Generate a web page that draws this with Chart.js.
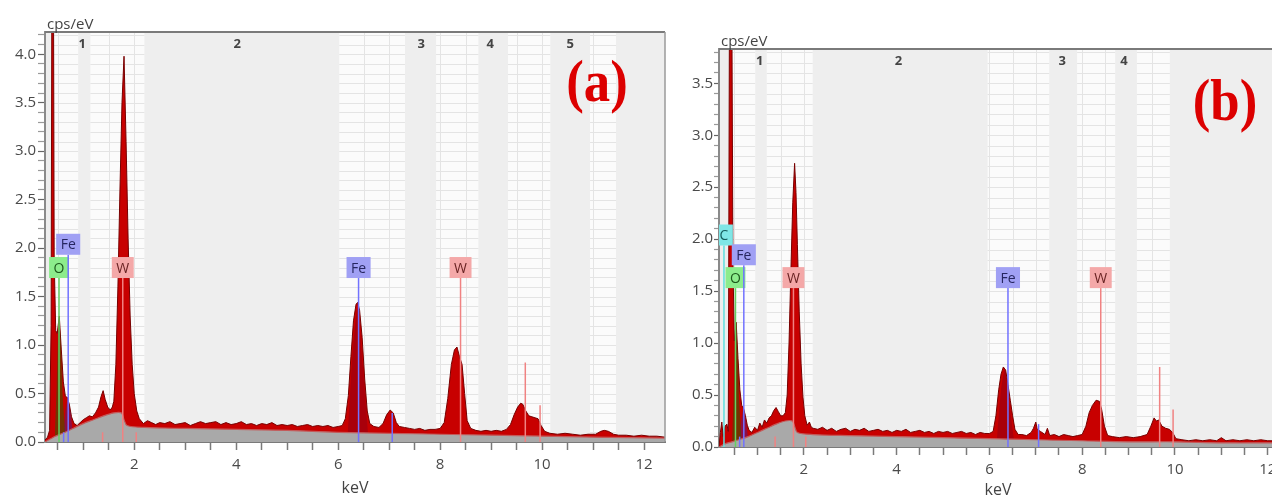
<!DOCTYPE html>
<html lang="en">
<head>
<meta charset="UTF-8">
<title>EDS spectra (a) (b)</title>
<script src="https://cdn.jsdelivr.net/npm/chart.js"></script>
<style>
	html, body { margin: 0; padding: 0; background: #fff; overflow: hidden; width: 1272px; height: 495px; }
	canvas { position: absolute; top: 0; }
</style>
</head>
<body>
<canvas id="chartA" width="680" height="495" style="left:0"></canvas>
<canvas id="chartB" width="620" height="495" style="left:680px"></canvas>
<script>
// ---- spectrum (a) ----
var energyA = [0.25,0.30,0.34,0.37,0.39,0.41,0.43,0.46,0.49,0.53,0.57,0.61,0.65,0.69,0.73,0.77,0.82,0.88,0.94,1.00,
	1.06,1.12,1.18,1.24,1.30,1.35,1.39,1.43,1.48,1.53,1.57,1.60,1.64,1.68,1.72,1.76,1.80,1.84,1.88,1.92,
	1.96,2.00,2.05,2.10,2.18,2.26,2.34,2.42,2.50,2.60,2.70,2.80,2.90,3.00,3.10,3.20,3.30,3.40,3.50,
	3.60,3.70,3.80,3.90,4.00,4.10,4.20,4.30,4.40,4.50,4.60,4.70,4.80,4.90,5.00,5.10,5.20,5.30,5.40,5.50,
	5.60,5.70,5.80,5.90,6.00,6.08,6.14,6.20,6.25,6.30,6.35,6.38,6.42,6.47,6.52,6.57,6.62,6.70,6.80,6.88,
	6.95,7.02,7.08,7.14,7.20,7.30,7.40,7.50,7.60,7.70,7.80,7.90,8.00,8.08,8.15,8.22,8.28,8.33,8.38,8.43,
	8.48,8.53,8.60,8.70,8.80,8.90,9.00,9.10,9.20,9.30,9.38,9.45,9.52,9.58,9.62,9.68,9.74,9.80,9.86,9.92,
	9.98,10.05,10.15,10.30,10.45,10.60,10.75,10.90,11.05,11.15,11.22,11.30,11.40,11.50,11.65,11.80,11.95,12.10,12.25,12.41];
var cpsA = [0.02,0.05,0.12,1.2,6.0,6.0,1.9,1.15,1.12,1.3,0.95,0.62,0.47,0.46,0.38,0.26,0.19,0.17,0.20,0.23,
	0.25,0.27,0.26,0.30,0.36,0.47,0.53,0.44,0.36,0.33,0.36,0.42,0.8,1.6,2.6,3.5,3.98,3.1,2.1,1.3,
	0.8,0.5,0.32,0.24,0.19,0.22,0.20,0.18,0.20,0.19,0.21,0.18,0.19,0.20,0.17,0.19,0.21,0.19,0.20,
	0.21,0.18,0.20,0.18,0.19,0.21,0.18,0.19,0.17,0.19,0.18,0.20,0.17,0.18,0.17,0.18,0.16,0.17,0.18,0.16,
	0.17,0.16,0.17,0.15,0.16,0.17,0.24,0.48,0.88,1.25,1.42,1.44,1.36,1.08,0.65,0.32,0.19,0.16,0.15,0.19,
	0.28,0.33,0.30,0.20,0.16,0.15,0.14,0.13,0.14,0.12,0.13,0.13,0.14,0.20,0.45,0.80,0.95,0.98,0.88,0.80,
	0.50,0.22,0.14,0.12,0.11,0.12,0.11,0.12,0.11,0.13,0.18,0.28,0.36,0.40,0.39,0.32,0.27,0.26,0.25,0.24,
	0.17,0.11,0.09,0.08,0.09,0.08,0.07,0.08,0.08,0.11,0.12,0.11,0.08,0.07,0.07,0.06,0.07,0.06,0.06,0.05];
var bgEnergyA = [0.25,0.35,0.45,0.6,0.8,1.0,1.2,1.4,1.6,1.75,1.8,1.86,2.2,3,4,5,6,7,8,9,10,11,12.41];
var bgCpsA = [0,0.03,0.06,0.09,0.14,0.19,0.23,0.27,0.30,0.30,0.23,0.17,0.15,0.14,0.13,0.12,0.10,0.09,0.08,0.07,0.06,0.05,0.04];
var oFitEA = [0.44,0.48,0.51,0.53,0.56,0.60,0.66];
var oFitVA = [0,0.6,1.2,1.3,1.0,0.45,0];
var feLFitEA = [0.60,0.65,0.70,0.75,0.82];
var feLFitVA = [0,0.3,0.45,0.3,0];
var feKFitEA = [6.18,6.28,6.38,6.48,6.60];
var feKFitVA = [0,0.9,1.38,0.8,0];
var bandStartA = [0.39,1.14,6.02,7.92,9.33,10.94];
var bandEndA = [0.90,2.20,7.31,8.75,10.16,11.45];
var regionTextA = ['1','2','3','4','5'];
var regionAtA = [0.98,4.02,7.63,8.98,10.55];
var lineNameA = ['O','Fe','W','Fe','W'];
var lineAtA = [0.525,0.705,1.775,6.40,8.40];
var lineLevelA = [1.80,2.04,1.80,1.80,1.80];
var minorNameA = ['Fe','Fe','W','W','W','W'];
var minorAtA = [0.615,7.06,9.67,9.96,1.38,2.04];
var minorTopA = [0.10,0.30,0.82,0.38,0.10,0.10];

// ---- spectrum (b) ----
var energyB = [0.17,0.20,0.23,0.26,0.30,0.34,0.37,0.40,0.44,0.47,0.50,0.54,0.58,0.62,0.66,0.70,0.74,0.78,0.82,0.88,
	0.94,1.00,1.05,1.10,1.15,1.20,1.25,1.30,1.35,1.40,1.45,1.50,1.55,1.60,1.64,1.68,1.72,1.76,1.80,1.83,
	1.86,1.90,1.94,1.98,2.02,2.07,2.12,2.16,2.20,2.30,2.40,2.50,2.60,2.70,2.80,2.90,3.00,3.10,3.20,3.30,3.40,
	3.50,3.60,3.70,3.80,3.90,4.00,4.10,4.20,4.30,4.40,4.50,4.60,4.70,4.80,4.90,5.00,5.10,5.20,5.30,5.40,
	5.50,5.60,5.70,5.80,5.90,6.00,6.08,6.14,6.20,6.25,6.30,6.35,6.40,6.45,6.50,6.55,6.62,6.70,6.80,6.90,
	6.95,7.00,7.03,7.10,7.20,7.25,7.30,7.40,7.50,7.60,7.70,7.80,7.90,8.00,8.08,8.15,8.22,8.30,8.37,8.42,
	8.48,8.55,8.65,8.80,8.95,9.10,9.25,9.40,9.48,9.55,9.60,9.65,9.72,9.80,9.88,9.95,10.02,10.15,10.30,10.45,
	10.60,10.75,10.90,11.00,11.10,11.25,11.40,11.55,11.70,11.85,12.00,12.20];
var cpsB = [0,0.14,0.24,0.10,0.20,0.22,0.15,5.0,5.0,1.8,1.02,1.2,0.85,0.55,0.40,0.37,0.30,0.21,0.16,0.14,
	0.19,0.16,0.23,0.19,0.26,0.23,0.28,0.30,0.35,0.38,0.34,0.30,0.30,0.33,0.5,1.0,1.7,2.35,2.73,2.45,
	1.95,1.3,0.8,0.48,0.30,0.21,0.24,0.19,0.18,0.17,0.19,0.16,0.18,0.15,0.17,0.18,0.15,0.17,0.16,0.18,0.15,
	0.16,0.17,0.15,0.16,0.14,0.16,0.15,0.17,0.14,0.15,0.16,0.14,0.15,0.13,0.15,0.14,0.15,0.13,0.14,0.15,
	0.13,0.14,0.12,0.14,0.13,0.13,0.15,0.30,0.55,0.70,0.77,0.74,0.60,0.45,0.30,0.17,0.12,0.12,0.11,0.14,
	0.18,0.24,0.17,0.15,0.12,0.18,0.11,0.12,0.10,0.12,0.11,0.10,0.11,0.12,0.20,0.33,0.40,0.45,0.44,0.36,
	0.20,0.11,0.10,0.09,0.10,0.09,0.10,0.12,0.20,0.28,0.25,0.26,0.20,0.18,0.17,0.14,0.08,0.07,0.06,0.07,
	0.06,0.07,0.06,0.09,0.06,0.07,0.06,0.07,0.06,0.07,0.06,0.06];
var bgEnergyB = [0.17,0.3,0.45,0.6,0.8,1.0,1.2,1.4,1.6,1.75,1.8,1.86,2.2,3,4,5,6,7,8,9,10,11,12.2];
var bgCpsB = [0,0.03,0.05,0.07,0.10,0.14,0.18,0.22,0.25,0.25,0.20,0.14,0.12,0.11,0.10,0.09,0.08,0.07,0.06,0.05,0.05,0.04,0.04];
var oFitEB = [0.45,0.49,0.52,0.54,0.57,0.61,0.67];
var oFitVB = [0,0.55,1.1,1.2,0.9,0.4,0];
var feLFitEB = [0.60,0.65,0.70,0.75,0.82];
var feLFitVB = [0,0.25,0.37,0.25,0];
var feKFitEB = [6.15,6.25,6.33,6.42,6.55];
var feKFitVB = [0,0.55,0.74,0.45,0];
var bandStartB = [0.43,1.20,5.96,7.89,9.18];
var bandEndB = [0.95,2.19,7.29,8.71,9.89];
var regionTextB = ['1','2','3','4'];
var regionAtB = [1.05,4.04,7.57,8.90];
var lineNameB = ['C','O','Fe','W','Fe','W'];
var lineAtB = [0.277,0.525,0.705,1.775,6.40,8.40];
var lineLevelB = [2.04,1.63,1.85,1.63,1.63,1.63];
var minorNameB = ['Fe','Fe','W','W','W','W'];
var minorAtB = [0.615,7.06,9.67,9.96,1.38,2.04];
var minorTopB = [0.10,0.22,0.77,0.36,0.10,0.10];

var FONT = "'Open Sans', 'DejaVu Sans', sans-serif";
var elementStyle = {
	C: { line: '#5fdede', box: '#7fe6e6', text: '#145c5c' },
	O: { line: '#62d062', box: '#8cec8c', text: '#1d5a1d' },
	Fe: { line: '#7272ff', box: '#a0a0f4', text: '#262660' },
	W: { line: '#f08282', box: '#f4a8a8', text: '#6a2424' }
};

function points(xs, ys) {
	return xs.map(function (x, i) { return { x: x, y: ys[i] }; });
}

function edsPlugin(p) {
	return {
		id: 'eds',
		beforeDraw: function (chart) {
			var ctx = chart.ctx, a = chart.chartArea, sx = chart.scales.x, sy = chart.scales.y;
			ctx.save();
			ctx.fillStyle = '#eeeeee';
			ctx.fillRect(a.left, a.top, a.right - a.left, a.bottom - a.top);
			for (var i = 0; i < p.bandStart.length; i++) {
				var x0 = Math.max(a.left, sx.getPixelForValue(p.bandStart[i]));
				var x1 = Math.min(a.right, sx.getPixelForValue(p.bandEnd[i]));
				ctx.fillStyle = '#fbfbfb';
				ctx.fillRect(x0, a.top, x1 - x0, a.bottom - a.top);
				ctx.strokeStyle = '#e4e4e4';
				ctx.lineWidth = 1;
				ctx.beginPath();
				sy.ticks.forEach(function (t) {
					var py = Math.round(sy.getPixelForValue(t.value)) + 0.5;
					ctx.moveTo(x0, py); ctx.lineTo(x1, py);
				});
				for (var k = 0; k < sx.ticks.length; k++) {
					var v = sx.ticks[k].value;
					if (v > p.bandStart[i] && v < p.bandEnd[i]) {
						var px = Math.round(sx.getPixelForValue(v)) + 0.5;
						ctx.moveTo(px, a.top); ctx.lineTo(px, a.bottom);
					}
				}
				ctx.stroke();
			}
			ctx.restore();
		},
		afterDatasetsDraw: function (chart) {
			var ctx = chart.ctx, a = chart.chartArea, sx = chart.scales.x, sy = chart.scales.y;
			var base = sy.getPixelForValue(0);
			ctx.save();
			ctx.beginPath();
			ctx.rect(a.left, a.top, a.right - a.left, a.bottom - a.top + 1);
			ctx.clip();
			ctx.lineWidth = 1.5;
			for (var i = 0; i < p.minorAt.length; i++) {
				var mx = sx.getPixelForValue(p.minorAt[i]);
				ctx.strokeStyle = elementStyle[p.minorName[i]].line;
				ctx.beginPath();
				ctx.moveTo(mx, sy.getPixelForValue(p.minorTop[i]));
				ctx.lineTo(mx, base);
				ctx.stroke();
			}
			ctx.font = '14px ' + FONT;
			ctx.textAlign = 'center';
			ctx.textBaseline = 'middle';
			for (var j = 0; j < p.lineAt.length; j++) {
				var st = elementStyle[p.lineName[j]];
				var lx = sx.getPixelForValue(p.lineAt[j]);
				var ly = sy.getPixelForValue(p.lineLevel[j]);
				var w = ctx.measureText(p.lineName[j]).width + 9;
				var h = 21;
				ctx.strokeStyle = st.line;
				ctx.beginPath();
				ctx.moveTo(lx, ly + h / 2);
				ctx.lineTo(lx, base);
				ctx.stroke();
				ctx.fillStyle = st.box;
				ctx.fillRect(lx - w / 2, ly - h / 2, w, h);
				ctx.fillStyle = st.text;
				ctx.fillText(p.lineName[j], lx, ly + 1);
			}
			ctx.restore();
		},
		afterDraw: function (chart) {
			var ctx = chart.ctx, a = chart.chartArea, sx = chart.scales.x;
			ctx.save();
			ctx.strokeStyle = '#7a7a7a';
			ctx.lineWidth = 2;
			ctx.beginPath();
			ctx.moveTo(a.left, a.top); ctx.lineTo(a.right, a.top);
			ctx.stroke();
			if (p.rightBorder) {
				ctx.strokeStyle = '#9a9a9a';
				ctx.lineWidth = 1.5;
				ctx.beginPath();
				ctx.moveTo(a.right, a.top); ctx.lineTo(a.right, a.bottom);
				ctx.stroke();
			}
			ctx.fillStyle = '#444';
			ctx.font = 'bold 13px ' + FONT;
			ctx.textAlign = 'center';
			ctx.textBaseline = 'middle';
			for (var i = 0; i < p.regionText.length; i++) {
				ctx.fillText(p.regionText[i], sx.getPixelForValue(p.regionAt[i]), a.top + 12);
			}
			ctx.font = '15px ' + FONT;
			ctx.textAlign = 'left';
			ctx.textBaseline = 'bottom';
			ctx.fillText('cps/eV', a.left + 2, a.top);
			ctx.textAlign = 'center';
			ctx.textBaseline = 'middle';
			ctx.font = '16px ' + FONT;
			ctx.fillText('keV', (a.left + a.right) / 2, p.kevY);
			// panel letter
			ctx.translate(a.right - p.letterDx, a.top + p.letterDy);
			ctx.scale(0.88, 1);
			ctx.fillStyle = '#dc0000';
			ctx.font = "bold 60px 'Liberation Serif', 'DejaVu Serif', serif";
			ctx.fillText(p.letter, 0, 0);
			ctx.restore();
		}
	};
}

function fitSet(xs, ys, color) {
	return {
		data: points(xs, ys),
		borderWidth: 0,
		backgroundColor: color,
		fill: 'origin',
		pointRadius: 0,
		tension: 0.2,
		order: 2.5
	};
}

function makeChart(id, p) {
	var ctx = document.getElementById(id).getContext('2d');
	return new Chart(ctx, {
		type: 'line',
		data: {
			datasets: [{
				data: points(p.energy, p.cps),
				borderColor: '#780000',
				borderWidth: 1,
				backgroundColor: '#c80000',
				fill: 'origin',
				pointRadius: 0,
				tension: 0,
				order: 3
			}, {
				data: points(p.bgEnergy, p.bgCps),
				borderColor: '#c45a5a',
				borderWidth: 1.2,
				backgroundColor: '#a9a9a9',
				fill: 'origin',
				pointRadius: 0,
				tension: 0.3,
				order: 2
			},
				fitSet(p.oFitE, p.oFitV, 'rgba(70,78,0,0.65)'),
				fitSet(p.feLFitE, p.feLFitV, 'rgba(70,30,150,0.45)'),
				fitSet(p.feKFitE, p.feKFitV, 'rgba(60,0,50,0.22)')
			]
		},
		options: {
			responsive: false,
			animation: false,
			events: [],
			layout: { padding: { left: 0, top: p.padTop, right: p.padRight, bottom: 0 } },
			plugins: { legend: { display: false }, tooltip: { enabled: false } },
			scales: {
				x: {
					type: 'linear',
					min: p.xMin,
					max: p.xMax,
					ticks: {
						stepSize: 0.5,
						autoSkip: false,
						maxRotation: 0,
						includeBounds: false,
						padding: 6,
						color: '#4a4a4a',
						font: { family: FONT, size: 15 },
						callback: function (v) {
							return Math.abs(v / 2 - Math.round(v / 2)) < 1e-6 ? String(Math.round(v)) : '';
						}
					},
					grid: { drawOnChartArea: false, tickLength: 8, tickColor: '#7a7a7a', tickWidth: 1.5 },
					border: { color: '#7a7a7a', width: 2 },
					afterFit: function (s) { s.height = p.xAxisHeight; }
				},
				y: {
					min: 0,
					max: p.yMax,
					ticks: {
						stepSize: 0.1,
						autoSkip: false,
						includeBounds: false,
						padding: p.yPad,
						color: '#4a4a4a',
						font: { family: FONT, size: 15 },
						callback: function (v) {
							var t = Math.round(v * 10);
							return t % 5 === 0 ? (t / 10).toFixed(1) : '';
						}
					},
					grid: {
						drawOnChartArea: false,
						tickLength: p.yTick,
						tickWidth: 1.2,
						tickColor: function (c) {
							return Math.round(c.tick.value * 10) % 5 === 0 ? '#666' : '#9a9a9a';
						}
					},
					border: { color: '#8a8a8a', width: 2 },
					afterFit: function (s) { s.width = p.yAxisWidth; }
				}
			}
		},
		plugins: [edsPlugin(p)]
	});
}

makeChart('chartA', {
	energy: energyA, cps: cpsA, bgEnergy: bgEnergyA, bgCps: bgCpsA,
	oFitE: oFitEA, oFitV: oFitVA, feLFitE: feLFitEA, feLFitV: feLFitVA, feKFitE: feKFitEA, feKFitV: feKFitVA,
	bandStart: bandStartA, bandEnd: bandEndA, regionText: regionTextA, regionAt: regionAtA,
	lineName: lineNameA, lineAt: lineAtA, lineLevel: lineLevelA,
	minorName: minorNameA, minorAt: minorAtA, minorTop: minorTopA,
	xMin: 0.25, xMax: 12.41, yMax: 4.23,
	padTop: 32, padRight: 15, xAxisHeight: 53, yAxisWidth: 45, yPad: 2, yTick: 7,
	rightBorder: true, kevY: 488, letter: '(a)', letterDx: 68, letterDy: 53
});

makeChart('chartB', {
	energy: energyB, cps: cpsB, bgEnergy: bgEnergyB, bgCps: bgCpsB,
	oFitE: oFitEB, oFitV: oFitVB, feLFitE: feLFitEB, feLFitV: feLFitVB, feKFitE: feKFitEB, feKFitV: feKFitVB,
	bandStart: bandStartB, bandEnd: bandEndB, regionText: regionTextB, regionAt: regionAtB,
	lineName: lineNameB, lineAt: lineAtB, lineLevel: lineLevelB,
	minorName: minorNameB, minorAt: minorAtB, minorTop: minorTopB,
	xMin: 0.17, xMax: 12.2, yMax: 3.83,
	padTop: 49, padRight: 23, xAxisHeight: 48, yAxisWidth: 39, yPad: 1, yTick: 5,
	rightBorder: false, kevY: 490, letter: '(b)', letterDx: 52, letterDy: 55
});
</script>
</body>
</html>
